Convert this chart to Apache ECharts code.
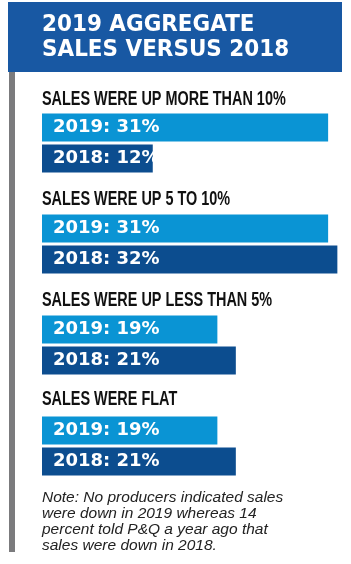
<!DOCTYPE html>
<html>
<head>
<meta charset="utf-8">
<script src="https://cdn.jsdelivr.net/npm/echarts@6/dist/echarts.min.js"></script>
<style>
html,body{margin:0;padding:0;background:#fff;}
#chart{width:351px;height:564px;}
</style>
</head>
<body>
<div id="chart"></div>
<script>
var titleLines = ['2019 AGGREGATE', 'SALES VERSUS 2018'];
var categories = ['SALES WERE UP MORE THAN 10%', 'SALES WERE UP 5 TO 10%', 'SALES WERE UP LESS THAN 5%', 'SALES WERE FLAT'];
var years = ['2019', '2018'];
var values2019 = [31, 31, 19, 19];
var values2018 = [12, 32, 21, 21];
var noteText = 'Note: No producers indicated sales\nwere down in 2019 whereas 14\npercent told P&Q a year ago that\nsales were down in 2018.';

var chart = echarts.init(document.getElementById('chart'), null, {renderer: 'canvas'});

var groupTops = [112, 213, 314, 415];
var headingTops = [90, 190, 291, 390];
var pxPerUnit = 9.23;
var axisMax = 33;
var grids = [], xAxes = [], yAxes = [], series = [], graphics = [];
var lightBlue = '#0a94d4', darkBlue = '#0c4d8f';

graphics.push({type: 'rect', z: -1, shape: {x: 8, y: 2, width: 334, height: 70}, style: {fill: '#1858a3'}});
graphics.push({type: 'rect', z: -1, shape: {x: 9, y: 72, width: 6, height: 480}, style: {fill: '#7b7b7d'}});
titleLines.forEach(function (t, k) {
  graphics.push({type: 'text', x: 42, y: 14 + k * 25, scaleX: 0.935,
    style: {text: t, fontFamily: 'DejaVu Sans', fontWeight: 'bold', fontSize: 23, fill: '#fff', textVerticalAlign: 'top'}});
});

categories.forEach(function (cat, i) {
  grids.push({left: 42, top: groupTops[i], width: pxPerUnit * axisMax, height: 62, containLabel: false});
  xAxes.push({type: 'value', gridIndex: i, min: 0, max: axisMax, show: false});
  yAxes.push({type: 'category', gridIndex: i, data: years, inverse: true, show: false});
  series.push({
    type: 'bar', xAxisIndex: i, yAxisIndex: i, barWidth: 28, animation: false,
    data: [
      {value: values2019[i], itemStyle: {color: lightBlue}},
      {value: values2018[i], itemStyle: {color: darkBlue}}
    ],
    label: {
      show: true, position: 'insideLeft', distance: 11,
      formatter: '{b}: {c}%',
      color: '#fff', fontFamily: 'DejaVu Sans', fontWeight: 'bold', fontSize: 18
    }
  });
  graphics.push({type: 'text', x: 42, y: headingTops[i], scaleX: 0.74,
    style: {text: cat, fontFamily: 'Liberation Sans', fontWeight: 'bold', fontSize: 19.5, fill: '#111', textVerticalAlign: 'top'}});
});

graphics.push({type: 'text', x: 42, y: 490,
  style: {text: noteText, fontFamily: 'Liberation Sans', fontStyle: 'italic', fontSize: 15.5, lineHeight: 16, fill: '#222', textVerticalAlign: 'top'}});

chart.setOption({
  animation: false,
  grid: grids,
  xAxis: xAxes,
  yAxis: yAxes,
  series: series,
  graphic: graphics
});
</script>
</body>
</html>
